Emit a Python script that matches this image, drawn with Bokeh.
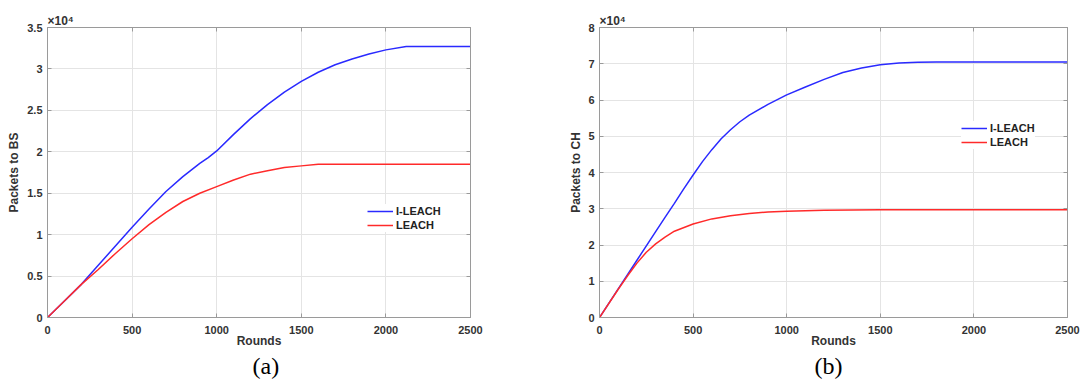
from bokeh.plotting import figure
from bokeh.layouts import row
from bokeh.models import Legend, LegendItem, LinearAxis, Title, FixedTicker, Range1d
from bokeh.embed import file_html
from bokeh.resources import INLINE

# ---------------- data (values in units of 10^4 packets) ----------------
rounds_ileach_bs = [0, 100, 200, 300, 400, 500, 600, 700, 800, 900, 950, 1000, 1100, 1200,
                    1300, 1400, 1500, 1600, 1700, 1800, 1900, 2000, 2120, 2500]
ileach_bs = [0, 0.2, 0.4, 0.63, 0.86, 1.09, 1.31, 1.52, 1.70, 1.86, 1.93, 2.01, 2.21, 2.40,
             2.57, 2.72, 2.85, 2.96, 3.05, 3.12, 3.18, 3.23, 3.27, 3.27]

rounds_leach_bs = [0, 100, 200, 300, 400, 500, 600, 700, 800, 900, 1000, 1100, 1200, 1300,
                   1400, 1500, 1600, 2500]
leach_bs = [0, 0.2, 0.4, 0.58, 0.77, 0.95, 1.12, 1.27, 1.40, 1.50, 1.58, 1.66, 1.73, 1.77,
            1.81, 1.83, 1.85, 1.85]

rounds_ileach_ch = [0, 100, 200, 300, 350, 400, 450, 500, 550, 600, 650, 700, 750, 800, 900,
                    1000, 1100, 1200, 1300, 1400, 1500, 1600, 1700, 1800, 2500]
ileach_ch = [0, 0.79, 1.58, 2.37, 2.76, 3.15, 3.55, 3.93, 4.3, 4.63, 4.93, 5.18, 5.4, 5.58,
             5.88, 6.14, 6.36, 6.57, 6.76, 6.88, 6.97, 7.02, 7.04, 7.05, 7.05]

rounds_leach_ch = [0, 100, 150, 200, 250, 300, 350, 400, 500, 600, 700, 800, 900, 1000, 1200,
                   1500, 2500]
leach_ch = [0, 0.78, 1.15, 1.5, 1.8, 2.03, 2.22, 2.38, 2.58, 2.72, 2.81, 2.87, 2.91, 2.93,
            2.96, 2.97, 2.97]

x_ticks = [0, 500, 1000, 1500, 2000, 2500]
y_ticks_bs = [0, 0.5, 1, 1.5, 2, 2.5, 3, 3.5]
y_labels_bs = ["0", "0.5", "1", "1.5", "2", "2.5", "3", "3.5"]
y_ticks_ch = [0, 1, 2, 3, 4, 5, 6, 7, 8]
y_labels_ch = ["0", "1", "2", "3", "4", "5", "6", "7", "8"]

series_names = ["I-LEACH", "LEACH"]
series_colors = ["#2a2aff", "#ff2a2a"]

FONT = "Liberation Sans"
TXT = "#333333"
AX = "#9a9a9a"


def bare_axis(ticks):
    # inward ticks only, no labels, no axis title
    return LinearAxis(ticker=FixedTicker(ticks=ticks), major_tick_in=4, major_tick_out=0,
                      minor_tick_in=0, minor_tick_out=0,
                      major_label_overrides={t: "" for t in ticks},
                      major_label_text_font_size="1px", major_label_standoff=0,
                      axis_label=None, axis_label_standoff=0,
                      axis_label_text_font_size="1px",
                      axis_line_color=AX, major_tick_line_color=AX)


def make_panel(width, height, bl, br, bt, bb, y_max, y_ticks, y_labels, ylab, ylab_standoff,
               xs_list, ys_list, legend_loc, caption, cap_offset, cap_standoff):
    p = figure(width=width, height=height, output_backend="svg", toolbar_location=None,
               x_range=Range1d(0, 2500), y_range=Range1d(0, y_max),
               min_border_left=bl, min_border_right=br, min_border_top=bt,
               min_border_bottom=bb)
    p.title.text = "\u00d710\u2074"
    p.title.align = "left"
    p.title.text_font = FONT
    p.title.text_font_style = "bold"
    p.title.text_font_size = "12px"
    p.title.text_color = TXT
    p.title.standoff = 0
    p.title.text_line_height = 1.0
    p.outline_line_color = AX
    p.outline_line_width = 1
    p.background_fill_color = "white"
    p.border_fill_color = "white"

    p.xaxis.ticker = FixedTicker(ticks=x_ticks)
    p.yaxis.ticker = FixedTicker(ticks=y_ticks)
    p.yaxis.major_label_overrides = {t: l for t, l in zip(y_ticks, y_labels)}
    for ax in (p.xaxis[0], p.yaxis[0]):
        ax.major_tick_in = 4
        ax.major_tick_out = 0
        ax.minor_tick_in = 0
        ax.minor_tick_out = 0
        ax.axis_line_color = AX
        ax.major_tick_line_color = AX
        ax.major_label_text_font = FONT
        ax.major_label_text_font_style = "bold"
        ax.major_label_text_font_size = "11px"
        ax.major_label_text_color = TXT
        ax.axis_label_text_font = FONT
        ax.axis_label_text_font_style = "bold"
        ax.axis_label_text_font_size = "12px"
        ax.axis_label_text_color = TXT
    p.xaxis.axis_label = "Rounds"
    p.xaxis.major_label_standoff = 8
    p.xaxis.axis_label_standoff = -3
    p.yaxis.axis_label = ylab
    p.yaxis.major_label_standoff = 5
    p.yaxis.axis_label_standoff = ylab_standoff

    p.add_layout(bare_axis(x_ticks), "above")
    p.add_layout(bare_axis(y_ticks), "right")

    p.xgrid.ticker = FixedTicker(ticks=x_ticks)
    p.ygrid.ticker = FixedTicker(ticks=y_ticks)
    p.grid.grid_line_color = "#e4e4e4"
    p.grid.grid_line_width = 1

    items = []
    for xs, ys, name, col in zip(xs_list, ys_list, series_names, series_colors):
        r = p.line(xs, ys, line_color=col, line_width=1.5)
        items.append(LegendItem(label=name, renderers=[r]))
    leg = Legend(items=items, location=legend_loc, border_line_color=None,
                 background_fill_color="white", background_fill_alpha=1.0,
                 padding=4, margin=0, spacing=0, label_standoff=3,
                 glyph_width=26, glyph_height=14, label_height=14,
                 label_text_font=FONT, label_text_font_style="bold",
                 label_text_font_size="11px", label_text_color="#222222")
    p.add_layout(leg)

    cap = Title(text=caption, align="left", offset=cap_offset, standoff=cap_standoff,
                text_font="Liberation Serif", text_font_style="normal",
                text_font_size="24px", text_color="black")
    p.add_layout(cap, "below")
    return p


p1 = make_panel(540, 382, 47, 70, 27, 65, 3.5, y_ticks_bs, y_labels_bs, "Packets to BS", 3,
                [rounds_ileach_bs, rounds_leach_bs], [ileach_bs, leach_bs],
                (320, 85), "(a)", 205, 0)
p2 = make_panel(544, 382, 59, 17, 27, 65, 8, y_ticks_ch, y_labels_ch, "Packets to CH", 2,
                [rounds_ileach_ch, rounds_leach_ch], [ileach_ch, leach_ch],
                (362, 168), "(b)", 215, 0)

layout = row(p1, p2)
open("out.html", "w").write(file_html(layout, INLINE))
